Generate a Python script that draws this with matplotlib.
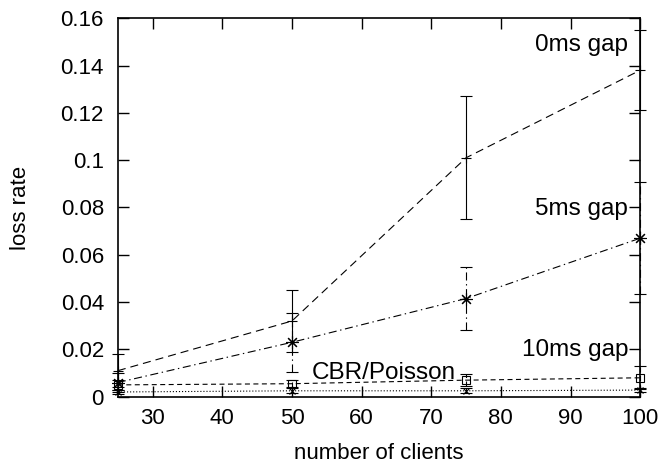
import matplotlib
matplotlib.use('Agg')
from matplotlib import pyplot as plt
from matplotlib.ticker import FormatStrFormatter

plt.rcParams['font.family'] = ['Liberation Sans', 'DejaVu Sans']
plt.rcParams['lines.scale_dashes'] = False

clients = [25, 50, 75, 100]

gap0 = [0.011, 0.032, 0.101, 0.138]
gap0_err = [0.007, 0.013, 0.026, 0.017]

gap5 = [0.006, 0.023, 0.0415, 0.067]
gap5_err = [0.004, 0.0125, 0.0133, 0.0236]

gap10 = [0.005, 0.0055, 0.007, 0.008]
gap10_err = [0.002, 0.0015, 0.0025, 0.0048]

cbr = [0.002, 0.0025, 0.0025, 0.0028]
cbr_err = [0.001, 0.001, 0.001, 0.001]

xticks = [30, 40, 50, 60, 70, 80, 90, 100]
yticks = [0, 0.02, 0.04, 0.06, 0.08, 0.1, 0.12, 0.14, 0.16]

fig = plt.figure(figsize=(6.62, 4.67), dpi=100)
ax = fig.add_axes([0.178, 0.1505, 0.789, 0.8105])

series = [
    (gap0, gap0_err, '+', 7, (0, (5.8, 3.6)), '-'),
    (gap5, gap5_err, (8, 2, 0), 9, (0, (5.8, 2.6, 1, 2.6)), (0, (5.8, 2.6, 1, 2.6))),
    (gap10, gap10_err, 's', 5.5, (0, (3.6, 2.5)), (0, (3.6, 2.5))),
    (cbr, cbr_err, 'x', 5, (0, (0.8, 1.4)), '-'),
]

for y, err, mk, ms, ls, els in series:
    ax.plot(clients, y, color='black', linestyle=ls, linewidth=0.8,
            marker=mk, markersize=ms, markerfacecolor='none',
            markeredgewidth=0.8, clip_on=False, zorder=3)
    eb = ax.errorbar(clients, y, yerr=err, fmt='none', ecolor='black',
                     elinewidth=0.8, capsize=4, capthick=0.8, clip_on=False)
    for bl in eb[2]:
        bl.set_linestyle(els)
        bl.set_clip_on(False)
    for cl in eb[1]:
        cl.set_clip_on(False)

# curve labels
ax.text(98.3, 0.1488, '0ms gap', ha='right', va='center', fontsize=17.5)
ax.text(98.3, 0.0795, '5ms gap', ha='right', va='center', fontsize=17.5)
ax.text(98.3, 0.0197, '10ms gap', ha='right', va='center', fontsize=17.5)
ax.text(52.8, 0.0100, 'CBR/Poisson', ha='left', va='center', fontsize=17.5)

ax.set_xlim(25, 100)
ax.set_ylim(0, 0.16)
ax.set_xticks(xticks)
ax.set_yticks(yticks)
ax.yaxis.set_major_formatter(FormatStrFormatter('%g'))
ax.tick_params(direction='in', length=8, width=1, top=True, right=True, labelsize=16)
ax.tick_params(axis='x', pad=8)
ax.tick_params(axis='y', pad=10)
for s in ax.spines.values():
    s.set_linewidth(1.2)

ax.set_xlabel('number of clients', fontsize=16, labelpad=10)
ax.set_ylabel('loss rate', fontsize=16, labelpad=21)

fig.savefig('out.png', dpi=100)
